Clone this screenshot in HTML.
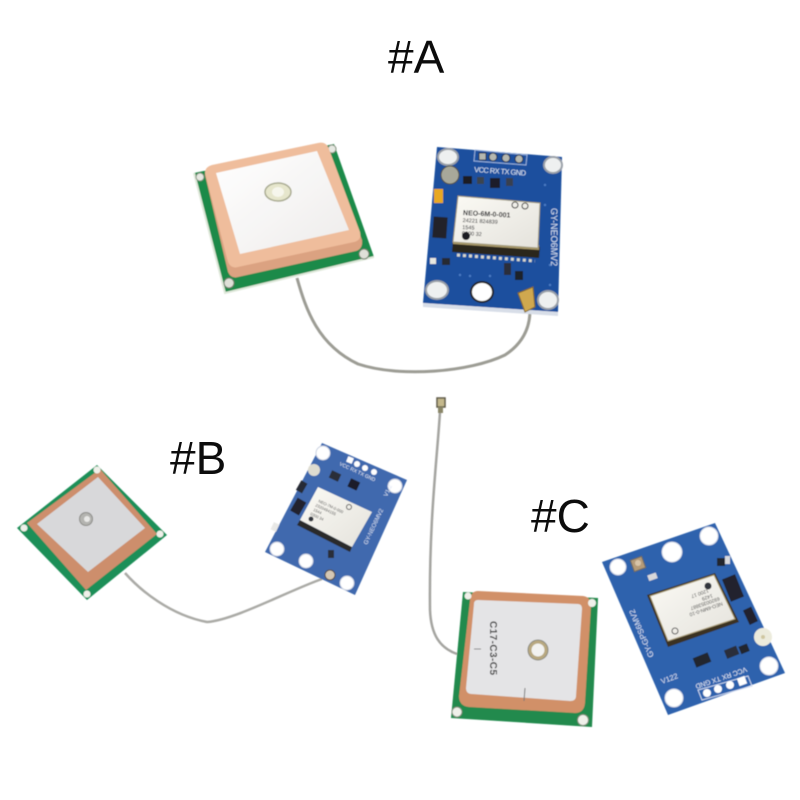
<!DOCTYPE html>
<html><head><meta charset="utf-8"><title>GPS modules</title>
<style>html,body{margin:0;padding:0;background:#fff}svg{display:block}
text{font-family:"Liberation Sans",sans-serif}</style></head>
<body>
<svg width="800" height="800" viewBox="0 0 800 800" xmlns="http://www.w3.org/2000/svg">
<defs>
<filter id="s" x="-5%" y="-5%" width="110%" height="110%"><feGaussianBlur stdDeviation="0.5"/></filter>
<linearGradient id="w" x1="0" y1="0" x2="1" y2="1"><stop offset="0" stop-color="#fff"/><stop offset="1" stop-color="#eeeceb"/></linearGradient>
<linearGradient id="m" x1="0" y1="0" x2="1" y2="1"><stop offset="0" stop-color="#fbfaf4"/><stop offset="1" stop-color="#e4e2dc"/></linearGradient>
</defs>
<rect width="800" height="800" fill="#fff"/>

<g filter="url(#s)">
<!-- CABLES -->
<path d="M297 278C306 310 318 345 358 364C400 378 470 372 505 355C525 342 530 325 530 310" fill="none" stroke="#9c9c94" stroke-width="3"/>
<path d="M125 573C140 590 170 615 207 622C235 620 290 590 322 579" fill="none" stroke="#aaaaa6" stroke-width="2.5"/>
<path d="M440 412C437 460 429 520 430 610C431 635 440 648 457 654" fill="none" stroke="#a4a4a0" stroke-width="2.5"/>
<rect x="437" y="398" width="8" height="9" fill="#c4b88c" stroke="#5d5a48" stroke-width="1.5"/>
<rect x="438" y="407" width="5" height="6" fill="#8a8668"/>

<!-- ANTENNA A -->
<polygon points="194,173 334,144 374,257 225,293" fill="#1d8a4a"/>
<polyline points="194,173 225,293 374,257" fill="none" stroke="#dfe8da" stroke-width="2"/>
<circle cx="200" cy="177" r="4" fill="#e6e8e2" stroke="#7c8c78"/>
<circle cx="332" cy="149" r="4" fill="#e6e8e2" stroke="#7c8c78"/>
<circle cx="364" cy="254" r="5" fill="#dfe0d8" stroke="#6c7c68"/>
<circle cx="229" cy="283" r="5" fill="#dfe0d8" stroke="#6c7c68"/>
<path d="M205 175Q205 169 212 167L318 144Q326 142 329 150L362 240Q363 249 356 251L238 277Q231 279 228 272Z" fill="#dba281"/>
<path d="M205 173Q205 167 212 165L318 143Q326 141 329 149L360 232Q362 240 354 242L238 267Q231 269 228 262Z" fill="#efbd9c"/>
<polygon points="216,173 317,151 349,230 240,254" fill="url(#w)"/>
<ellipse cx="278" cy="192" rx="13" ry="9" fill="#e6e6cc" stroke="#a8aa90" stroke-width="1.5"/>
<ellipse cx="278" cy="192" rx="6" ry="5" fill="#f6f6ec"/>

<!-- MODULE A -->
<polygon points="437,147 562,157 558,312 423,303" fill="#1a4f9e"/>
<polygon points="423,303 558,312 558,316 423,307" fill="#d8dee8"/>
<g fill="#eef0f0" stroke="#9aa0a8" stroke-width="2">
<ellipse cx="448" cy="157" rx="10" ry="8"/><ellipse cx="553" cy="165" rx="9" ry="8"/>
<ellipse cx="437" cy="290" rx="11" ry="9"/><ellipse cx="482" cy="292" rx="11" ry="10" fill="#fff" stroke="#222"/><ellipse cx="548" cy="300" rx="10" ry="9"/>
</g>
<polygon points="475,150 527,155 526,165 474,161" fill="none" stroke="#9ab2dc" stroke-width="1"/>
<g fill="#b6b8b0" stroke="#26324c"><rect x="479" y="153" width="7" height="7"/><circle cx="493" cy="157" r="4"/><circle cx="506" cy="158" r="4"/><circle cx="519" cy="159" r="4"/></g>
<text x="474" y="172" font-size="7.5" fill="#dfe8f5" textLength="52" transform="rotate(4 474 172)">VCC RX TX GND</text>
<circle cx="450" cy="175" r="9" fill="#a8a89a" stroke="#4e4e42"/>
<rect x="434" y="189" width="9" height="14" fill="#e8a820"/>
<rect x="463" y="176" width="9" height="8" fill="#1c1c24"/><rect x="490" y="178" width="10" height="10" fill="#1b1f2a"/><rect x="477" y="177" width="7" height="7" fill="#3a4450"/><rect x="506" y="178" width="7" height="8" fill="#394050"/>
<rect x="433" y="217" width="14" height="21" fill="#20242c" transform="rotate(4 440 227)"/>
<rect x="430" y="258" width="6" height="6" fill="#e8e8e0"/>
<rect x="442" y="258" width="8" height="7" fill="#252a32"/>
<polygon points="453,240 540,247 539,258 452,252" fill="#2a261e"/>
<polygon points="453,238 539,245 539,250 453,244" fill="#a89868"/>
<polygon points="458,196 540,203 538,248 453,242" fill="url(#m)" stroke="#a09878" stroke-width="1"/>
<g stroke="#d8d8cc" stroke-width="3" stroke-dasharray="3 3"><line x1="457" y1="255" x2="535" y2="261"/></g>
<g fill="#1c1c20" font-weight="bold" transform="rotate(3 463 213)">
<text x="463" y="215" font-size="7">NEO-6M-0-001</text>
<text x="463" y="222" font-size="5.5" font-weight="normal">24221 824839</text>
<text x="463" y="229" font-size="5.5" font-weight="normal">1545</text>
<text x="463" y="235" font-size="5.5" font-weight="normal">0300 32</text>
</g>
<circle cx="466" cy="236" r="4" fill="#1c1c20"/>
<circle cx="515" cy="205" r="3" fill="none" stroke="#333"/><circle cx="525" cy="206" r="3" fill="none" stroke="#333"/>
<text x="0" y="0" font-size="9" fill="#d8e2f2" transform="translate(551 208) rotate(90)">GY-NEO6MV2</text>
<rect x="504" y="263" width="7" height="12" fill="#2a2e3a"/>
<rect x="515" y="271" width="8" height="9" fill="#1e222c"/>
<polygon points="518,293 533,287 535,307 525,312" fill="#d0a850" stroke="#7c6428"/>
<g fill="#4c7cc4"><circle cx="545" cy="185" r="1.2"/><circle cx="545" cy="205" r="1.2"/><circle cx="550" cy="265" r="1.2"/><circle cx="550" cy="285" r="1.2"/><circle cx="460" cy="275" r="1.2"/><circle cx="470" cy="276" r="1.2"/><circle cx="490" cy="276" r="1.2"/></g>

<!-- ANTENNA B -->
<polygon points="17,528 97,465 167,535 87,600" fill="#1f8f58"/>
<polygon points="27,523 100,469 157,534 86,590" fill="#cd8e6c"/>
<polygon points="37,524 98,477 145,528 88,572" fill="#d8d8da"/>
<circle cx="24" cy="528" r="3.5" fill="#f0f0ea"/><circle cx="97" cy="470" r="3.5" fill="#f0f0ea"/><circle cx="160" cy="534" r="3.5" fill="#f0f0ea"/><circle cx="87" cy="594" r="3.5" fill="#f0f0ea"/>
<circle cx="86" cy="519" r="6.5" fill="#b4b4b0" stroke="#8a8a86"/><circle cx="87" cy="519" r="3" fill="#e8e8e6"/>

<!-- MODULE B -->
<polygon points="322,443 407,480 355,595 265,552" fill="#4169ae"/>
<g fill="#fff" stroke="#c8d0e0"><circle cx="323" cy="453" r="7"/><circle cx="395" cy="486" r="7"/><circle cx="277" cy="549" r="7"/><circle cx="306" cy="561" r="7"/><circle cx="347" cy="583" r="7"/></g>
<g fill="#fff"><rect x="347" y="457" width="6" height="6" transform="rotate(22 350 460)"/><circle cx="357" cy="464" r="3"/><circle cx="365" cy="468" r="3"/><circle cx="374" cy="472" r="3"/></g>
<text font-size="5" fill="#e8eef8" transform="translate(339 465) rotate(25)">VCC RX TX GND</text>
<circle cx="314" cy="470" r="6" fill="#dedcd0"/>
<rect x="330" y="472" width="10" height="8" fill="#2a2e38" transform="rotate(25 335 476)"/>
<rect x="349" y="480" width="10" height="9" fill="#1a1e2c" transform="rotate(25 354 484)"/>
<rect x="296" y="484" width="11" height="7" fill="#252a36" transform="rotate(-60 301 487)"/>
<rect x="291" y="502" width="15" height="10" fill="#20242e" transform="rotate(-60 298 507)"/>
<polygon points="300,520 352,547 350,552 297,525" fill="#2a2a2c"/>
<polygon points="318,487 372,512 352,547 300,520" fill="url(#m)"/>
<g font-size="4" fill="#555" transform="rotate(25 318 502)"><text x="318" y="502">NEO-7M-0-000</text><text x="317" y="507">2320494155</text><text x="317" y="512">1544</text><text x="316" y="517">0300 34</text></g>
<circle cx="311" cy="519" r="2.5" fill="#33363c"/>
<circle cx="349" cy="507" r="2.5" fill="none" stroke="#555"/>
<text font-size="6" fill="#d8e2f2" transform="translate(367 545) rotate(-65)">GY-NEO6MV2</text>
<text font-size="6" fill="#d8e2f2" transform="translate(387 497) rotate(-65)">V1.2</text>
<rect x="272" y="523" width="6" height="8" fill="#e8e8e6" transform="rotate(25 275 527)"/>
<rect x="328" y="550" width="6" height="8" fill="#2a2e38"/>
<circle cx="330" cy="575" r="5" fill="#d6c8b4" stroke="#524a40"/>

<!-- ANTENNA C -->
<polygon points="463,592 598,598 592,727 451,718" fill="#208a4e"/>
<path d="M478 591L583 596Q591 597 591 606L585 703Q584 713 575 713L469 707Q459 706 459 696L470 600Q471 591 478 591Z" fill="#d19068"/>
<path d="M478 600L578 604Q582 604 582 609L576 696Q576 701 570 701L472 694Q466 694 466 688L474 604Q474 600 478 600Z" fill="#e4e4e6"/>
<circle cx="468" cy="596" r="3.5" fill="#f0f0ea"/><circle cx="592" cy="603" r="4" fill="#f0f0ea"/><circle cx="457" cy="712" r="5" fill="#f0f0ea" stroke="#7c8c78"/><circle cx="583" cy="720" r="5.5" fill="#f0f0ea" stroke="#7c8c78"/>
<circle cx="538" cy="650" r="10" fill="#b8a880" stroke="#8a8a80"/><circle cx="538" cy="650" r="6.5" fill="#f2f2f0"/>
<text font-size="10" font-weight="bold" fill="#3c3c3c" transform="translate(490 621) rotate(90)" textLength="54">C17-C3-C5</text>
<line x1="525" y1="688" x2="524" y2="701" stroke="#777" stroke-width="1"/>
<line x1="474" y1="649" x2="481" y2="649" stroke="#888" stroke-width="1"/>

<!-- MODULE C -->
<polygon points="602,562 715,523 785,673 668,715" fill="#2d62ad"/>
<g fill="#fff" stroke="#cdd6e6"><circle cx="618" cy="567" r="8"/><circle cx="672" cy="552" r="10"/><circle cx="709" cy="536" r="9"/><circle cx="769" cy="666" r="9"/><circle cx="674" cy="698" r="9"/></g>
<rect x="632" y="558" width="12" height="12" fill="#b49a78" stroke="#6a6a60" transform="rotate(-20 638 564)"/>
<circle cx="638" cy="563" r="3" fill="#d8c4a8"/>
<rect x="717" y="558" width="8" height="8" fill="#22252e"/><rect x="725" y="556" width="5" height="8" fill="#d8dade"/>
<rect x="648" y="574" width="9" height="6" fill="#d8d8da" transform="rotate(-20 652 577)"/>
<rect x="726" y="576" width="14" height="24" fill="#20242e" transform="rotate(-22 733 588)"/>
<rect x="746" y="608" width="9" height="16" fill="#20242e" transform="rotate(-25 750 616)"/>
<polygon points="647,595 715,573 739,622 668,647" fill="#3a3222"/>
<polygon points="650,596 714,575 735,619 668,641" fill="url(#m)" stroke="#a89a72"/>
<circle cx="708" cy="586" r="3.5" fill="#33363c"/>
<g font-size="5" fill="#4a4a4a"><text transform="translate(722 602) rotate(161)">NEO-6MN-0-10</text><text transform="translate(719 597) rotate(161)">69200353887</text><text transform="translate(712 594) rotate(161)">1429</text><text transform="translate(708 589) rotate(161)">1200 17</text></g>
<circle cx="675" cy="631" r="3" fill="none" stroke="#555"/>
<circle cx="763" cy="637" r="9" fill="#ecebdc"/><circle cx="763" cy="637" r="2" fill="#cfc6a0"/>
<rect x="694" y="655" width="16" height="10" fill="#22252e" transform="rotate(-22 702 660)"/>
<rect x="725" y="648" width="13" height="9" fill="#2a2f3a" transform="rotate(-22 731 652)"/>
<rect x="740" y="645" width="9" height="8" fill="#22252e" transform="rotate(-22 744 650)"/>
<text font-size="7.5" fill="#dbe4f4" transform="translate(662 684) rotate(-20)">V122</text>
<text font-size="8" fill="#dbe4f4" transform="translate(654 656) rotate(-113)">GY-GPS6MV2</text>
<text font-size="7" fill="#e8eef8" transform="translate(746 667) rotate(161)" textLength="54">VCC RX TX GND</text>
<polygon points="698,690 748,676 752,686 702,700" fill="none" stroke="#cfdaf0"/>
<g fill="#fff"><circle cx="707" cy="693" r="4"/><circle cx="718" cy="689" r="4"/><circle cx="730" cy="685" r="4"/><rect x="738" y="677" width="8" height="8" transform="rotate(-20 742 681)"/></g>
</g>

<!-- LABELS -->
<text x="388" y="73" font-size="46" fill="#0c0c0c">#A</text>
<text x="170" y="474" font-size="46" fill="#0c0c0c">#B</text>
<text x="531" y="532" font-size="46" fill="#0c0c0c">#C</text>
</svg>
</body></html>
